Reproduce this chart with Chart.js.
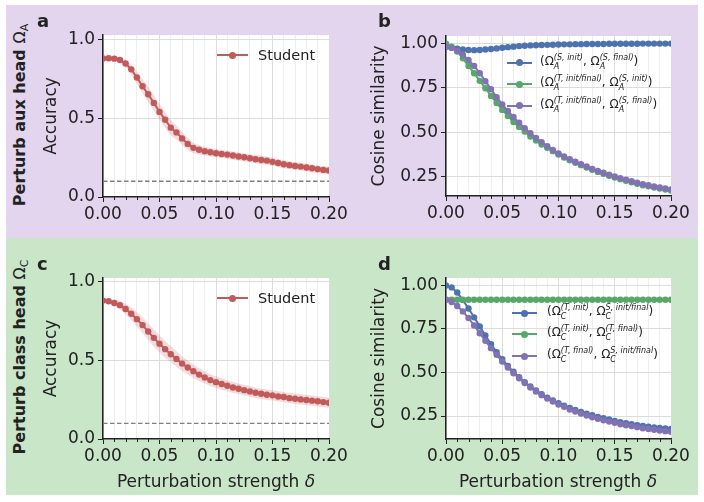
<!DOCTYPE html>
<html>
<head>
<meta charset="utf-8">
<script src="https://cdn.jsdelivr.net/npm/chart.js@4.4.1/dist/chart.umd.min.js"></script>
<style>
  body { margin:0; width:704px; height:502px; position:relative; overflow:hidden; background:#fff; font-family:'DejaVu Sans', sans-serif; color:#222; }
  .band { position:absolute; left:6px; width:692px; }
  canvas { position:absolute; }
  .lt { position:absolute; font-weight:bold; font-size:18px; line-height:18px; }
  .rl { position:absolute; white-space:nowrap; font-weight:bold; font-size:16px; transform:translate(-50%,-50%) rotate(-90deg); }
  .rl .rm { font-weight:normal; }
  .rl sub { font-size:11px; vertical-align:-3px; line-height:0; }
  .xt { position:absolute; white-space:nowrap; font-size:17px; transform:translate(-50%,-50%); }
  .lg { position:absolute; display:flex; align-items:center; height:16px; white-space:nowrap; }
  .smp { position:relative; width:31px; height:2px; flex:none; }
  .smp i { position:absolute; left:12px; top:-2.5px; width:7px; height:7px; border-radius:50%; background:inherit; }
  .mx { font-size:12px; }
  .ss { display:inline-flex; flex-direction:column; font-size:8px; line-height:8.6px; font-style:italic; vertical-align:5.3px; }
</style>
</head>
<body>
<div class="band" style="top:5px;height:233px;background:#e3d5ee"></div>
<div class="band" style="top:238px;height:257px;background:#c9e6c9"></div>

<canvas id="ca" width="314" height="210" style="left:40px;top:20px"></canvas>
<canvas id="cb" width="328" height="210" style="left:368px;top:20px"></canvas>
<canvas id="cc" width="314" height="233" style="left:40px;top:262px"></canvas>
<canvas id="cd" width="328" height="233" style="left:368px;top:262px"></canvas>

<div class="lt" style="left:37px;top:12px">a</div>
<div class="lt" style="left:378px;top:12px">b</div>
<div class="lt" style="left:37px;top:255px">c</div>
<div class="lt" style="left:378px;top:255px">d</div>

<div class="rl" style="left:19px;top:115px">Perturb aux head <span class="rm">Ω<sub>A</sub></span></div>
<div class="rl" style="left:19px;top:357px">Perturb class head <span class="rm">Ω<sub>C</sub></span></div>

<div class="xt" style="left:216px;top:481px">Perturbation strength <i>δ</i></div>
<div class="xt" style="left:558px;top:481px">Perturbation strength <i>δ</i></div>

<div id="legends"></div>

<script>
Chart.defaults.font.family = "'DejaVu Sans', sans-serif";

// perturbation strengths (x)
const deltas = [0, 0.005, 0.01, 0.015, 0.02, 0.025, 0.03, 0.035, 0.04, 0.045,
  0.05, 0.055, 0.06, 0.065, 0.07, 0.075, 0.08, 0.085, 0.09, 0.095,
  0.1, 0.105, 0.11, 0.115, 0.12, 0.125, 0.13, 0.135, 0.14, 0.145,
  0.15, 0.155, 0.16, 0.165, 0.17, 0.175, 0.18, 0.185, 0.19, 0.195, 0.2];
const xTicks = [0, 0.01, 0.02, 0.03, 0.04, 0.05, 0.06, 0.07, 0.08, 0.09, 0.1,
  0.11, 0.12, 0.13, 0.14, 0.15, 0.16, 0.17, 0.18, 0.19, 0.2];
const accTicks = [0, 0.5, 1];
const cosTicks = [0.25, 0.5, 0.75, 1];
const chanceLevel = 0.1;

// panel a: accuracy, aux head perturbed
const studentA = [0.879, 0.880, 0.878, 0.869, 0.847, 0.810, 0.758, 0.703, 0.652, 0.597,
  0.540, 0.490, 0.440, 0.410, 0.372, 0.337, 0.312, 0.300, 0.291, 0.284,
  0.278, 0.273, 0.269, 0.263, 0.257, 0.252, 0.246, 0.240, 0.235, 0.231,
  0.223, 0.216, 0.208, 0.202, 0.197, 0.193, 0.187, 0.182, 0.177, 0.172, 0.168];
const studentAErr = [0.012, 0.012, 0.014, 0.018, 0.024, 0.031, 0.038, 0.044, 0.048, 0.050,
  0.050, 0.050, 0.048, 0.045, 0.041, 0.037, 0.033, 0.030, 0.028, 0.027,
  0.026, 0.026, 0.026, 0.026, 0.026, 0.026, 0.026, 0.026, 0.026, 0.026,
  0.025, 0.025, 0.025, 0.025, 0.025, 0.025, 0.025, 0.025, 0.025, 0.025, 0.025];

// panel c: accuracy, class head perturbed
const studentC = [0.881, 0.877, 0.866, 0.852, 0.828, 0.797, 0.763, 0.725, 0.684, 0.644,
  0.606, 0.572, 0.540, 0.510, 0.480, 0.455, 0.432, 0.410, 0.392, 0.375,
  0.362, 0.350, 0.339, 0.328, 0.320, 0.311, 0.303, 0.294, 0.288, 0.282,
  0.278, 0.271, 0.267, 0.260, 0.256, 0.252, 0.248, 0.244, 0.240, 0.235, 0.231];
const studentCErr = [0.012, 0.015, 0.020, 0.026, 0.033, 0.040, 0.046, 0.050, 0.053, 0.055,
  0.055, 0.054, 0.052, 0.050, 0.047, 0.045, 0.043, 0.041, 0.039, 0.038,
  0.037, 0.036, 0.035, 0.035, 0.034, 0.034, 0.034, 0.033, 0.033, 0.033,
  0.033, 0.033, 0.033, 0.033, 0.033, 0.033, 0.033, 0.033, 0.033, 0.033, 0.033];

// panel b: cosine similarity, aux head
const cosA_SinitSfinal = [0.983, 0.977, 0.972, 0.967, 0.964, 0.963, 0.964, 0.967, 0.970, 0.973,
  0.977, 0.980, 0.983, 0.986, 0.988, 0.990, 0.991, 0.992, 0.993, 0.994,
  0.995, 0.996, 0.996, 0.997, 0.997, 0.998, 0.998, 0.998, 0.998, 0.999,
  0.999, 0.999, 0.999, 0.999, 0.999, 1.000, 1.000, 1.000, 1.000, 1.000, 1.000];
const cosA_TSinit = [1.000, 0.983, 0.955, 0.917, 0.874, 0.833, 0.790, 0.748, 0.705, 0.665,
  0.626, 0.592, 0.558, 0.530, 0.504, 0.476, 0.453, 0.430, 0.412, 0.393,
  0.374, 0.357, 0.342, 0.327, 0.314, 0.301, 0.288, 0.276, 0.265, 0.254,
  0.244, 0.235, 0.226, 0.218, 0.209, 0.201, 0.195, 0.188, 0.182, 0.177, 0.171];
const cosA_TSfinal = [0.983, 0.976, 0.960, 0.938, 0.908, 0.874, 0.833, 0.788, 0.743, 0.698,
  0.657, 0.620, 0.586, 0.553, 0.523, 0.494, 0.468, 0.444, 0.421, 0.400,
  0.380, 0.363, 0.348, 0.333, 0.320, 0.307, 0.293, 0.282, 0.271, 0.260,
  0.250, 0.241, 0.232, 0.224, 0.215, 0.207, 0.201, 0.194, 0.188, 0.183, 0.177];

// panel d: cosine similarity, class head
const cosC_TinitS = [1.000, 0.989, 0.960, 0.916, 0.868, 0.817, 0.765, 0.713, 0.663, 0.617,
  0.577, 0.538, 0.504, 0.473, 0.444, 0.420, 0.397, 0.375, 0.356, 0.339,
  0.324, 0.310, 0.297, 0.285, 0.274, 0.264, 0.255, 0.245, 0.237, 0.230,
  0.222, 0.215, 0.209, 0.203, 0.198, 0.193, 0.189, 0.185, 0.182, 0.179, 0.176];
const cosC_TinitTfinal = [0.918, 0.918, 0.918, 0.918, 0.918, 0.918, 0.918, 0.918, 0.918, 0.918,
  0.918, 0.918, 0.918, 0.918, 0.918, 0.918, 0.918, 0.918, 0.918, 0.918,
  0.918, 0.918, 0.918, 0.918, 0.918, 0.918, 0.918, 0.918, 0.918, 0.918,
  0.918, 0.918, 0.918, 0.918, 0.918, 0.918, 0.918, 0.918, 0.918, 0.918, 0.918];
const cosC_TfinalS = [0.918, 0.905, 0.882, 0.851, 0.813, 0.770, 0.726, 0.682, 0.640, 0.602,
  0.563, 0.529, 0.496, 0.467, 0.440, 0.414, 0.391, 0.370, 0.350, 0.333,
  0.316, 0.303, 0.287, 0.276, 0.264, 0.253, 0.243, 0.234, 0.226, 0.218,
  0.211, 0.203, 0.197, 0.192, 0.186, 0.180, 0.176, 0.171, 0.167, 0.163, 0.159];

const RED = '#c25a5c', BLUE = '#4c72b0', GREEN = '#55a868', PURPLE = '#8172b3';
const INK = '#222222';

function pts(ys) { return ys.map(function(y, i) { return { x: deltas[i], y: y }; }); }

function lineSet(ys, color) {
  return { data: pts(ys), borderColor: color, backgroundColor: color, borderWidth: 2,
    pointRadius: 3.2, pointBorderWidth: 0, pointHoverRadius: 3.2, tension: 0, fill: false, clip: 0 };
}

function isMajorX(i) { return i % 5 === 0; }

var plotBg = {
  id: 'plotBg',
  beforeDraw: function(chart) {
    var a = chart.chartArea, ctx = chart.ctx;
    ctx.save(); ctx.fillStyle = '#fff';
    ctx.fillRect(a.left, a.top, a.right - a.left, a.bottom - a.top);
    ctx.restore();
  }
};

var minorTicks = {
  id: 'minorTicks',
  afterDraw: function(chart) {
    var xs = chart.scales.x, ctx = chart.ctx, b = chart.chartArea.bottom;
    ctx.save(); ctx.strokeStyle = INK; ctx.lineWidth = 1;
    xs.ticks.forEach(function(t, i) {
      if (isMajorX(i)) return;
      var px = Math.round(xs.getPixelForTick(i)) + 0.5;
      ctx.beginPath(); ctx.moveTo(px, b); ctx.lineTo(px, b + 3); ctx.stroke();
    });
    ctx.restore();
  }
};

function panel(id, o) {
  return new Chart(document.getElementById(id), {
    type: 'line',
    data: { datasets: o.datasets },
    options: {
      responsive: false, animation: false, devicePixelRatio: 1, events: [],
      layout: { padding: { top: o.padTop, right: 25, left: 0, bottom: 0 } },
      plugins: { legend: { display: false }, tooltip: { enabled: false } },
      scales: {
        x: {
          type: 'linear', min: 0, max: 0.2,
          afterBuildTicks: function(s) { s.ticks = xTicks.map(function(v) { return { value: v }; }); },
          afterFit: function(s) { s.height = o.xH; },
          ticks: { autoSkip: false, maxRotation: 0, padding: 2, font: { size: 17 }, color: INK,
            callback: function(v, i) { return isMajorX(i) ? v.toFixed(2) : ''; } },
          grid: { color: function(c) { return isMajorX(c.index) ? '#dcdcdc' : '#eeeeee'; },
            tickColor: function(c) { return isMajorX(c.index) ? INK : 'rgba(0,0,0,0)'; },
            tickLength: 5, lineWidth: 1 },
          border: { color: INK, width: 1.5 }
        },
        y: {
          type: 'linear', min: o.yMin, max: o.yMax,
          afterBuildTicks: function(s) { s.ticks = o.yTicks.map(function(v) { return { value: v }; }); },
          afterFit: function(s) { s.width = o.yW; },
          ticks: { padding: 3, font: { size: 17 }, color: INK,
            callback: function(v) { return v.toFixed(o.dec); } },
          grid: { color: '#dcdcdc', tickColor: INK, tickLength: 5, lineWidth: 1 },
          border: { color: INK, width: 1.5 },
          title: { display: true, text: o.yTitle, font: { size: 17 }, color: INK, padding: { top: 1, bottom: 0 } }
        }
      }
    },
    plugins: [plotBg, minorTicks]
  });
}

function accDatasets(vals, err) {
  var upper = vals.map(function(v, i) { return v + err[i]; });
  var lower = vals.map(function(v, i) { return v - err[i]; });
  return [
    lineSet(vals, RED),
    { data: pts(upper), borderColor: 'rgba(0,0,0,0)', borderWidth: 0, pointRadius: 0, fill: '+1',
      backgroundColor: 'rgba(196,78,82,0.2)', tension: 0.3, clip: 0 },
    { data: pts(lower), borderColor: 'rgba(0,0,0,0)', borderWidth: 0, pointRadius: 0, fill: false, tension: 0.3, clip: 0 },
    { data: [{ x: 0, y: chanceLevel }, { x: 0.2, y: chanceLevel }], borderColor: '#808080', borderWidth: 1.3,
      borderDash: [4.5, 2.5], pointRadius: 0, fill: false, clip: 0 }
  ];
}

panel('ca', { datasets: accDatasets(studentA, studentAErr), padTop: 15, xH: 33, yW: 63,
  yMin: 0, yMax: 1.028, yTicks: accTicks, dec: 1, yTitle: 'Accuracy' });
panel('cc', { datasets: accDatasets(studentC, studentCErr), padTop: 16, xH: 56, yW: 63,
  yMin: 0, yMax: 1.025, yTicks: accTicks, dec: 1, yTitle: 'Accuracy' });
panel('cb', { datasets: [lineSet(cosA_TSfinal, PURPLE), lineSet(cosA_TSinit, GREEN), lineSet(cosA_SinitSfinal, BLUE)],
  padTop: 16, xH: 34, yW: 78, yMin: 0.14, yMax: 1.043, yTicks: cosTicks, dec: 2, yTitle: 'Cosine similarity' });
panel('cd', { datasets: [lineSet(cosC_TfinalS, PURPLE), lineSet(cosC_TinitTfinal, GREEN), lineSet(cosC_TinitS, BLUE)],
  padTop: 16, xH: 56, yW: 78, yMin: 0.118, yMax: 1.043, yTicks: cosTicks, dec: 2, yTitle: 'Cosine similarity' });

// legends
function om(sub, sup) { return 'Ω<span class="ss"><span>' + sup + '</span><span>' + sub + '</span></span>'; }
var legendRows = [
  { x: 217, y: 55, c: RED, html: '<span style="font-size:14.5px">Student</span>', gap: 10 },
  { x: 217, y: 298, c: RED, html: '<span style="font-size:14.5px">Student</span>', gap: 10 },
  { x: 507, y: 62.5, c: BLUE, html: '<span class="mx">(' + om('A', '(S, init)') + ', ' + om('A', '(S, final)') + ')</span>', gap: 8 },
  { x: 507, y: 84, c: GREEN, html: '<span class="mx">(' + om('A', '(T, init/final)') + ', ' + om('A', '(S, init)') + ')</span>', gap: 8 },
  { x: 507, y: 105.5, c: PURPLE, html: '<span class="mx">(' + om('A', '(T, init/final)') + ', ' + om('A', '(S, final)') + ')</span>', gap: 8 },
  { x: 512, y: 313, c: BLUE, html: '<span class="mx">(' + om('C', '(T, init)') + ', ' + om('C', 'S, init/final') + ')</span>', gap: 10 },
  { x: 512, y: 334, c: GREEN, html: '<span class="mx">(' + om('C', '(T, init)') + ', ' + om('C', '(T, final)') + ')</span>', gap: 10 },
  { x: 512, y: 356, c: PURPLE, html: '<span class="mx">(' + om('C', '(T, final)') + ', ' + om('C', 'S, init/final') + ')</span>', gap: 10 }
];
var lgHtml = '';
legendRows.forEach(function(r) {
  var w = r.c === RED ? 31 : 25;
  lgHtml += '<div class="lg" style="left:' + r.x + 'px;top:' + (r.y - 8) + 'px">' +
    '<span class="smp" style="width:' + w + 'px;background:' + r.c + ';margin-right:' + r.gap + 'px"><i style="left:' + (w / 2 - 3.5) + 'px"></i></span>' +
    r.html + '</div>';
});
document.getElementById('legends').innerHTML = lgHtml;
</script>
</body>
</html>
